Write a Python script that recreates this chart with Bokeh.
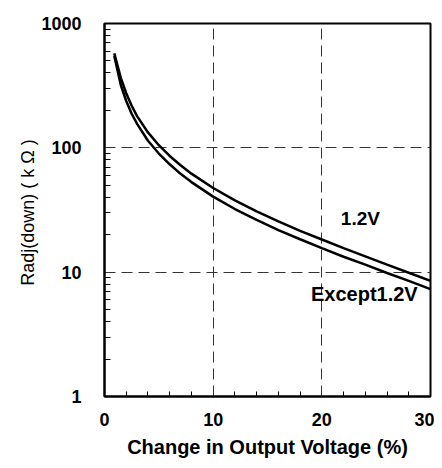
from bokeh.plotting import figure
from bokeh.embed import file_html
from bokeh.resources import INLINE
from bokeh.models import FixedTicker, Range1d, Label, Title

# Data
x_vals = [0.9, 1.5, 2, 2.5, 3, 4, 5, 6, 7, 8, 10, 12, 14, 16, 18, 20, 22, 24, 26, 28, 30]
r_12v = [575, 365, 275, 218, 180, 133, 105, 86, 72.5, 62, 47.5, 37.8, 30.8, 25.6,
         21.5, 18.3, 15.6, 13.4, 11.5, 9.9, 8.5]
r_except = [548, 320, 238, 188, 156, 114, 90, 73.7, 61.8, 53, 40.5, 32.2, 26.3, 21.8,
            18.4, 15.6, 13.3, 11.5, 9.85, 8.5, 7.3]

x_ticks = [0, 10, 20, 30]
x_minor = [2, 4, 6, 8, 12, 14, 16, 18, 22, 24, 26, 28]
y_ticks = [1, 10, 100, 1000]
y_minor = [m * d for d in (1, 10, 100) for m in range(2, 10)]
y_tick_labels = {1: "1", 10: "10", 100: "100", 1000: "1000"}

FONT = "Liberation Sans"

p = figure(width=434, height=460, output_backend="svg", toolbar_location=None,
           y_axis_type="log", x_range=Range1d(0, 30), y_range=Range1d(1, 1000),
           min_border_left=104, min_border_right=4, min_border_top=23, min_border_bottom=62)

p.background_fill_color = "white"
p.border_fill_color = "white"
p.outline_line_color = "black"
p.outline_line_width = 2

# axes
p.xaxis.ticker = FixedTicker(ticks=x_ticks, minor_ticks=x_minor)
p.yaxis.ticker = FixedTicker(ticks=y_ticks, minor_ticks=y_minor)
p.yaxis.major_label_overrides = y_tick_labels

for ax in (p.xaxis[0], p.yaxis[0]):
    ax.axis_line_color = "black"
    ax.axis_line_width = 2
    ax.major_tick_in = 0
    ax.major_tick_out = 0
    ax.minor_tick_in = 6
    ax.minor_tick_out = 0
    ax.minor_tick_line_color = "black"
    ax.minor_tick_line_width = 1
    ax.major_label_text_font = FONT
    ax.major_label_text_font_style = "bold"
    ax.major_label_text_font_size = "18px"
    ax.major_label_text_color = "black"
    ax.axis_label_text_font = FONT
    ax.axis_label_text_color = "black"

p.xaxis.minor_tick_in = 5
p.xaxis.major_label_standoff = 16
p.yaxis.major_label_standoff = 23
p.xaxis.axis_label = "Change in Output Voltage (%)"
p.xaxis.axis_label_text_font_size = "20px"
p.xaxis.axis_label_text_font_style = "bold"
p.xaxis.axis_label_standoff = 7

# y axis title placed as a side title so it can be shifted like the reference
ytitle = Title(text="Radj(down)  ( k Ω )", align="center", offset=18,
               text_font=FONT, text_font_size="18px", text_font_style="normal",
               text_color="black", standoff=2)
p.add_layout(ytitle, "left")

# grid
for g in (p.xgrid[0], p.ygrid[0]):
    g.grid_line_color = "#333333"
    g.grid_line_width = 1
    g.grid_line_dash = "11 6"
p.xgrid.ticker = FixedTicker(ticks=[10, 20])
p.ygrid.ticker = FixedTicker(ticks=[10, 100])

# curves
p.line(x_vals, r_12v, line_color="black", line_width=2.5)
p.line(x_vals, r_except, line_color="black", line_width=2.5)

p.add_layout(Label(x=21.75, y=27.0, text="1.2V", text_font=FONT,
                   text_font_style="bold", text_font_size="19px",
                   text_baseline="middle", text_align="left", text_color="black"))
p.add_layout(Label(x=19.0, y=6.73, text="Except1.2V", text_font=FONT,
                   text_font_style="bold", text_font_size="20px",
                   text_baseline="middle", text_align="left", text_color="black"))

open("out.html", "w").write(file_html(p, INLINE))
